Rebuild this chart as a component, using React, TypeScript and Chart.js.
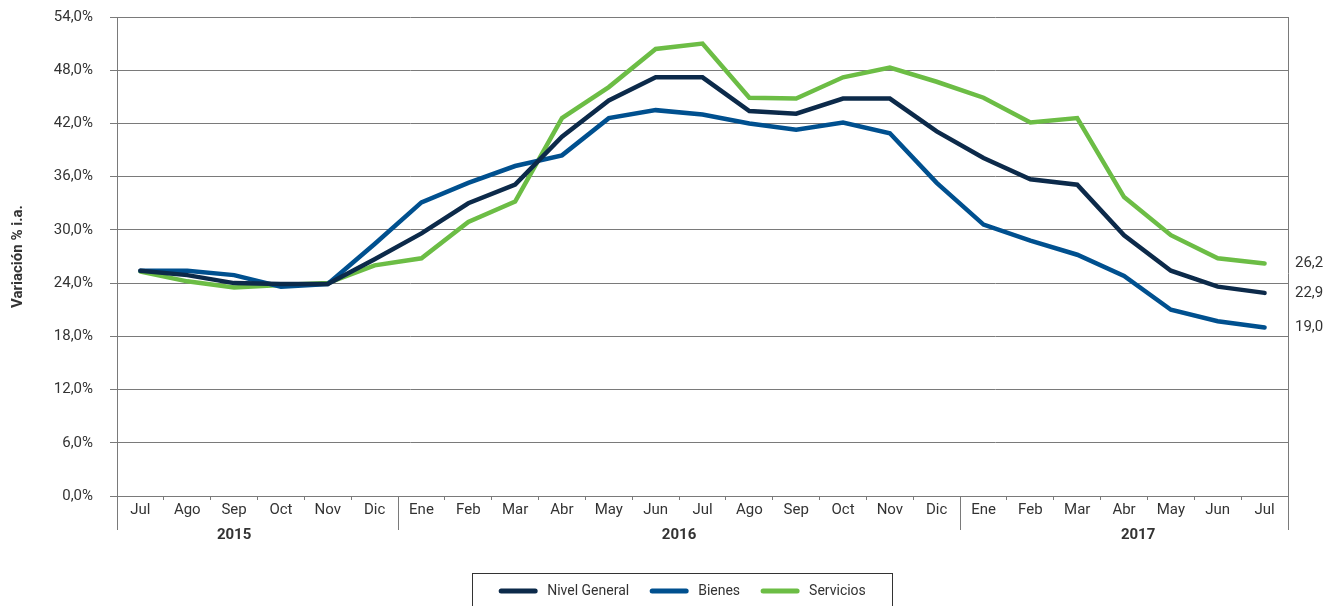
import React, { useEffect, useRef } from "react";
import { Chart, registerables } from "chart.js";

Chart.register(...registerables);

const months = ["Jul", "Ago", "Sep", "Oct", "Nov", "Dic", "Ene", "Feb", "Mar", "Abr", "May", "Jun", "Jul", "Ago", "Sep", "Oct", "Nov", "Dic", "Ene", "Feb", "Mar", "Abr", "May", "Jun", "Jul"];
const years = ["2015", "2016", "2017"];
const yearStartIndex = [0, 6, 18];
const yearLabelAnchor = [2, 11.5, 21.3];

const nivelGeneral = [25.4, 24.9, 24.0, 23.9, 23.9, 26.7, 29.6, 33.0, 35.1, 40.5, 44.6, 47.2, 47.2, 43.4, 43.1, 44.8, 44.8, 41.1, 38.1, 35.7, 35.1, 29.4, 25.4, 23.6, 22.9];
const bienes = [25.4, 25.4, 24.9, 23.6, 23.9, 28.4, 33.1, 35.3, 37.2, 38.4, 42.6, 43.5, 43.0, 42.0, 41.3, 42.1, 40.9, 35.3, 30.6, 28.8, 27.2, 24.8, 21.0, 19.7, 19.0];
const servicios = [25.3, 24.2, 23.5, 23.8, 24.0, 26.0, 26.8, 30.9, 33.2, 42.6, 46.1, 50.4, 51.0, 44.9, 44.8, 47.2, 48.3, 46.7, 44.9, 42.1, 42.6, 33.7, 29.4, 26.8, 26.2];

const seriesNames = ["Nivel General", "Bienes", "Servicios"];
const seriesColors = ["#0c2a4a", "#00508f", "#6cbd45"];

const FONT = "Roboto, 'Liberation Sans', sans-serif";
const GRID = "#7a7a7a";
const TEXT = "#333333";

const fmt = (v: number) => v.toFixed(1).replace(".", ",");

const decor = {
  id: "decor",
  afterDraw(chart: any) {
    const { ctx, chartArea: ca, scales } = chart;
    const x = scales.x;
    const ext = 34;
    ctx.save();
    ctx.strokeStyle = GRID;
    ctx.lineWidth = 1;
    const vline = (px: number, y0: number, y1: number) => {
      const p = Math.round(px) + 0.5;
      ctx.beginPath();
      ctx.moveTo(p, y0);
      ctx.lineTo(p, y1);
      ctx.stroke();
    };
    vline(ca.right, ca.top, ca.bottom + ext);
    vline(ca.left, ca.bottom, ca.bottom + ext);
    yearStartIndex.slice(1).forEach((i) => {
      const px = (x.getPixelForValue(i - 1) + x.getPixelForValue(i)) / 2;
      vline(px, ca.bottom, ca.bottom + ext);
    });

    // year labels
    ctx.fillStyle = TEXT;
    ctx.font = `bold 15px ${FONT}`;
    ctx.textAlign = "center";
    ctx.textBaseline = "middle";
    years.forEach((yr, i) => {
      const a = yearLabelAnchor[i];
      const lo = Math.floor(a);
      const frac = a - lo;
      const p0 = x.getPixelForValue(lo);
      const p1 = x.getPixelForValue(Math.min(lo + 1, months.length - 1));
      const px = p0 + (p1 - p0) * frac;
      ctx.fillText(yr, px, ca.bottom + 39);
    });

    // end labels
    ctx.font = `15px ${FONT}`;
    ctx.textAlign = "left";
    chart.data.datasets.forEach((ds: any, i: number) => {
      const meta = chart.getDatasetMeta(i);
      const pt = meta.data[meta.data.length - 1];
      ctx.fillText(fmt(ds.data[ds.data.length - 1]), ca.right + 7, pt.y);
    });

    // legend
    const boxL = 472.5, boxR = 892.5, boxT = 573.5;
    ctx.strokeStyle = "#333333";
    ctx.lineWidth = 1;
    ctx.strokeRect(boxL, boxT, boxR - boxL, 60);
    ctx.font = `14px ${FONT}`;
    const lineW = 38, gap1 = 10, gap2 = 21;
    const widths = seriesNames.map((n) => lineW + gap1 + ctx.measureText(n).width);
    const total = widths.reduce((s, w) => s + w, 0) + gap2 * (seriesNames.length - 1);
    let cx = (boxL + boxR) / 2 - total / 2;
    const ly = 591;
    seriesNames.forEach((n, i) => {
      ctx.strokeStyle = seriesColors[i];
      ctx.lineWidth = 5;
      ctx.lineCap = "round";
      ctx.beginPath();
      ctx.moveTo(cx + 2, ly);
      ctx.lineTo(cx + lineW - 2, ly);
      ctx.stroke();
      ctx.fillStyle = TEXT;
      ctx.textAlign = "left";
      ctx.fillText(n, cx + lineW + gap1, ly);
      cx += widths[i] + gap2;
    });
    ctx.restore();
  },
};

export default function App() {
  const ref = useRef<HTMLCanvasElement | null>(null);
  useEffect(() => {
    document.body.style.margin = "0";
    const canvas = ref.current;
    if (!canvas) return;
    const values = [nivelGeneral, bienes, servicios];
    const chart = new Chart(canvas, {
      type: "line",
      data: {
        labels: months,
        datasets: seriesNames.map((name, i) => ({
          label: name,
          data: values[i],
          borderColor: seriesColors[i],
          backgroundColor: seriesColors[i],
          borderWidth: 4.5,
          pointRadius: 0,
          tension: 0,
          borderCapStyle: "round" as const,
          borderJoinStyle: "miter" as const,
          fill: false,
        })),
      },
      options: {
        animation: false,
        responsive: true,
        maintainAspectRatio: false,
        layout: { padding: { top: 17, right: 48, bottom: 0, left: 0 } },
        plugins: {
          legend: { display: false },
          tooltip: { enabled: false },
        },
        scales: {
          x: {
            type: "category",
            offset: true,
            grid: {
              display: true,
              drawOnChartArea: false,
              drawTicks: true,
              tickLength: 4,
              offset: true,
              color: GRID,
            },
            border: { display: true, color: GRID },
            ticks: {
              color: TEXT,
              font: { family: FONT, size: 15 },
              padding: 1,
              maxRotation: 0,
              autoSkip: false,
            },
            afterFit: (s: any) => {
              s.height = 110;
              s.paddingLeft = 0;
              s.paddingRight = 0;
            },
          },
          y: {
            min: 0,
            max: 54,
            grid: { color: GRID, lineWidth: 1, tickLength: 7 },
            border: { display: true, color: GRID },
            ticks: {
              stepSize: 6,
              color: TEXT,
              padding: 17,
              font: { family: FONT, size: 15 },
              callback: (v: any) => fmt(Number(v)) + "%",
            },
            title: {
              display: true,
              text: "Variación % i.a.",
              color: TEXT,
              font: { family: FONT, size: 15, weight: "bold" },
              padding: { top: 9, bottom: 0 },
            },
            afterFit: (s: any) => {
              s.width = 117;
              s.paddingTop = 0;
              s.paddingBottom = 0;
            },
          },
        },
      },
      plugins: [decor],
    });
    return () => chart.destroy();
  }, []);
  return (
    <div style={{ width: "1336px", height: "606px", position: "relative" }}>
      <canvas ref={ref} />
    </div>
  );
}
